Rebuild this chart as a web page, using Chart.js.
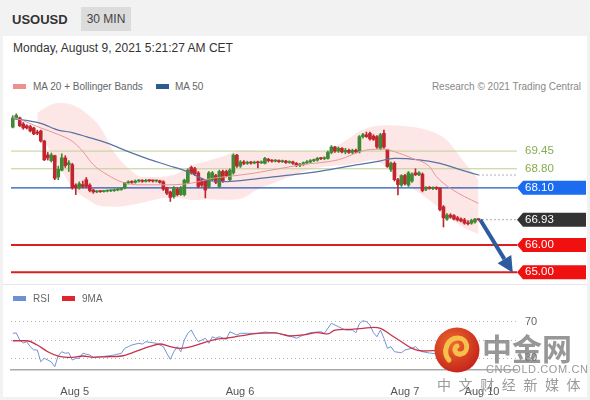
<!DOCTYPE html>
<html>
<head>
<meta charset="utf-8">
<script src="https://cdn.jsdelivr.net/npm/chart.js@4.4.0/dist/chart.umd.min.js"></script>
<style>
  body { margin:0; width:590px; height:400px; overflow:hidden; background:#f2f2f2; font-family:"Liberation Sans", Arial, sans-serif; position:relative; }
  .abs { position:absolute; }
  #panel { left:3px; top:36px; width:584px; height:361px; background:#fff; }
  #sym { left:12px; top:12px; font-weight:bold; font-size:13px; color:#333; }
  #tf { left:81px; top:7px; width:50px; height:24px; line-height:24px; text-align:center; background:#dcdcdc; font-size:12px; color:#444; }
  #date { left:13px; top:41px; font-size:12px; color:#333; }
  .leg { font-size:10px; color:#666; top:81px; }
  .sw { height:5px; width:13px; }
  #research { right:9px; top:81px; font-size:10px; color:#888; }
  #sep { left:3px; top:284px; width:584px; height:1px; background:#e6e6ee; }
  .wm { color:#8a8a8a; white-space:nowrap; }
</style>
</head>
<body>
<div id="panel" class="abs"></div>
<div id="sym" class="abs">USOUSD</div>
<div id="tf" class="abs">30 MIN</div>
<div id="date" class="abs">Monday, August 9, 2021 5:21:27 AM CET</div>

<div class="abs sw" style="left:13px;top:84px;background:#ef9090"></div>
<div class="abs leg" style="left:33px">MA 20 + Bollinger Bands</div>
<div class="abs sw" style="left:156px;top:84px;background:#2e5b8f"></div>
<div class="abs leg" style="left:175px">MA 50</div>
<div id="research" class="abs">Research © 2021 Trading Central</div>

<canvas id="main" class="abs" style="left:0;top:92px" width="590" height="196"></canvas>
<div id="sep" class="abs"></div>

<div class="abs sw" style="left:13px;top:296px;background:#6d8fd3"></div>
<div class="abs leg" style="left:33px;top:293px">RSI</div>
<div class="abs sw" style="left:62px;top:296px;background:#e0262b"></div>
<div class="abs leg" style="left:82px;top:293px">9MA</div>

<canvas id="rsi" class="abs" style="left:0;top:300px" width="590" height="97"></canvas>

<svg class="abs" style="left:434px;top:327px" width="46" height="46" viewBox="0 0 46 46">
  <defs><radialGradient id="lg" cx="40%" cy="35%" r="70%"><stop offset="0" stop-color="#ec6a2c"/><stop offset="1" stop-color="#c4211a"/></radialGradient></defs>
  <circle cx="23" cy="23" r="22.5" fill="url(#lg)"/>
  <path d="M15 33 C 8 25, 13 11, 24 11 C 34 11, 36 25, 27 27 C 21 28, 19 21, 23 19" stroke="#f6c04c" stroke-width="5" fill="none" stroke-linecap="round"/>
</svg>
<div class="abs wm" style="left:482px;top:325px;font:bold 30px 'Noto Sans CJK SC';color:rgba(125,125,125,0.8)">中金网</div>
<div class="abs wm" style="left:486px;top:363px;font-size:11px;letter-spacing:0.6px;color:#9a9a9a">CNGOLD.COM.CN</div>
<div class="abs wm" style="left:437px;top:374px;font-size:14px;letter-spacing:7.6px;font-family:'Noto Sans CJK SC';color:#9a9a9a">中文财经新媒体</div>

<script>
Chart.defaults.font.family = '"Liberation Sans", Arial, sans-serif';

var xMin = -0.5, xMax = 144;
var yMin = 64.53, yMax = 71.40;

// 30 min candles, Aug 4 evening -> Aug 9 morning
var opens = [70.33,70.67,70.67,70.45,70.38,70.35,70.30,70.15,70.19,69.82,69.31,69.10,69.28,68.50,68.75,69.20,68.95,68.95,68.20,68.10,
  68.22,68.40,68.20,68.02,67.95,67.97,67.96,67.98,67.99,68.00,68.02,68.04,68.10,68.28,68.32,68.30,68.35,68.36,68.34,68.37,
  68.36,68.35,68.36,68.32,68.10,67.95,67.78,68.05,67.85,67.85,68.30,68.85,68.80,68.65,68.40,68.35,68.15,68.40,68.55,68.15,
  68.70,68.70,68.40,68.65,69.30,68.90,69.05,69.00,69.03,69.01,69.04,69.02,69.00,69.15,69.10,69.08,69.10,69.06,69.08,69.03,
  69.05,69.00,68.93,68.95,69.02,69.05,69.10,69.12,69.18,69.17,69.18,69.40,69.60,69.45,69.55,69.42,69.48,69.40,69.48,69.42,
  69.98,70.05,70.10,70.00,69.98,69.55,70.10,69.50,68.78,69.00,68.40,68.20,68.55,68.20,68.35,68.65,68.58,68.60,68.05,68.12,
  68.08,68.12,68.08,67.40,66.95,67.10,67.08,67.00,66.95,66.92,66.82,66.80,66.85,66.95];
var highs = [70.75,70.82,70.70,70.50,70.42,70.40,70.33,70.22,70.22,69.85,69.40,69.38,69.30,68.90,69.35,69.28,69.10,69.00,68.25,68.32,
  68.35,68.48,68.25,68.05,68.00,68.00,68.01,68.02,68.03,68.05,68.07,68.10,68.30,68.36,68.36,68.39,68.40,68.40,68.41,68.40,
  68.39,68.39,68.38,68.36,68.12,67.98,68.15,68.10,68.15,68.42,68.80,68.90,68.85,68.70,68.45,68.38,68.70,68.70,68.60,68.75,
  68.75,68.75,68.80,69.35,69.33,69.10,69.10,69.08,69.07,69.08,69.08,69.09,69.22,69.18,69.14,69.14,69.13,69.12,69.11,69.09,
  69.08,69.03,69.00,69.05,69.10,69.14,69.16,69.22,69.22,69.24,69.45,69.65,69.62,69.60,69.58,69.55,69.52,69.52,69.52,70.02,
  70.10,70.15,70.15,70.05,70.02,70.10,70.22,69.52,69.05,69.05,68.45,68.58,68.60,68.70,68.65,68.80,68.70,68.65,68.15,68.15,
  68.14,68.14,68.12,67.45,67.15,67.15,67.12,67.05,67.00,66.98,66.90,66.95,66.98,66.97];
var lows = [70.30,70.62,70.35,70.25,70.26,70.15,70.05,70.05,69.78,69.10,69.12,69.05,68.40,68.40,68.72,68.85,68.70,68.05,67.85,68.05,
  68.10,68.10,67.95,67.90,67.92,67.93,67.94,67.95,67.96,67.97,67.99,68.01,68.06,68.24,68.26,68.27,68.31,68.30,68.31,68.32,
  68.31,68.31,68.27,68.00,67.85,67.60,67.72,67.80,67.82,67.80,68.25,68.60,68.55,68.10,68.15,67.73,68.10,68.35,68.25,68.10,
  68.30,68.50,68.35,68.60,68.85,68.85,68.95,68.96,68.97,68.98,68.83,68.99,68.98,69.05,69.04,69.05,69.03,69.03,69.00,69.00,
  68.96,68.88,68.88,68.92,68.98,69.02,69.06,69.08,69.13,69.13,69.15,69.35,69.40,69.40,69.38,69.35,69.36,69.35,69.38,69.38,
  69.92,69.95,69.85,69.84,69.55,69.50,69.55,68.85,68.70,68.35,67.84,68.15,68.20,68.15,68.30,68.55,68.55,67.95,68.00,68.05,
  68.03,68.03,67.25,66.66,66.90,66.98,66.92,66.88,66.85,66.76,66.74,66.76,66.80,66.90];
var closes = [70.67,70.76,70.38,70.30,70.30,70.19,70.08,70.10,69.82,69.13,69.20,69.31,68.45,68.78,69.20,68.92,69.02,68.10,68.10,68.25,
  68.15,68.15,68.00,67.95,67.97,67.96,67.98,67.99,68.00,68.02,68.04,68.08,68.28,68.32,68.30,68.35,68.36,68.34,68.37,68.36,
  68.35,68.36,68.30,68.05,67.90,67.75,68.10,67.85,68.10,68.38,68.75,68.65,68.62,68.15,68.20,68.02,68.65,68.65,68.30,68.70,
  68.35,68.55,68.75,69.30,68.90,69.05,69.00,69.03,69.01,69.04,69.02,69.05,69.18,69.10,69.08,69.10,69.06,69.08,69.03,69.05,
  69.00,68.93,68.95,69.02,69.05,69.10,69.12,69.18,69.17,69.20,69.40,69.60,69.45,69.55,69.42,69.48,69.40,69.48,69.42,69.98,
  70.05,69.98,69.90,69.88,69.60,70.05,69.60,68.88,69.00,68.40,68.22,68.55,68.25,68.65,68.60,68.58,68.65,68.00,68.12,68.08,
  68.12,68.08,67.30,67.00,67.10,67.02,66.95,66.92,66.88,66.80,66.78,66.90,66.95,66.93];

var ma20Idx = [0,2,8,13,17,20,23,27,31,36,44,51,57,61,69,82,93,101,106,109,114,119,121,125,129,133];
var ma20 = [70.68,70.61,70.30,70.06,69.81,69.44,68.95,68.58,68.32,68.21,68.21,68.27,68.45,68.51,68.64,68.94,69.13,69.49,69.52,69.43,69.19,68.88,68.51,68.08,67.78,67.53];
var ma50Idx = [0,8,13,17,21,27,33,38,44,50,56,61,69,77,85,91,98,104,109,116,122,128,133];
var ma50 = [70.65,70.47,70.22,70.13,69.98,69.74,69.43,69.19,68.94,68.69,68.36,68.33,68.42,68.54,68.66,68.78,68.94,69.06,69.18,69.13,69.00,68.76,68.57];
var bbIdx = [7,10,13,17,21,25,29,33,37,41,46,51,56,60,65,70,75,80,85,90,95,99,103,108,112,116,120,124,128,133];
var bbUpper = [70.85,71.10,71.22,71.15,70.84,70.33,69.40,68.82,68.50,68.50,68.58,68.90,69.10,69.25,69.48,69.45,69.43,69.43,69.43,69.48,69.83,70.17,70.35,70.40,70.36,70.30,70.15,69.85,69.20,68.40];
var bbLower = [70.45,69.60,68.95,68.12,67.70,67.43,67.40,67.45,67.55,67.68,67.75,67.65,67.68,67.66,67.70,68.05,68.30,68.55,68.78,68.89,68.95,69.02,69.12,68.70,68.25,67.92,67.55,67.10,66.70,66.40];

var resistances = [69.45, 68.80];
var pivot = 68.10;
var supports = [66.00, 65.00];
var lastPrice = closes[closes.length - 1];
var arrowFrom = [133.5, 66.93];
var arrowTo = [142.8, 64.98];

var rsiIdx = [0,1,2,3,4,5,6,7,8,9,10,11,12,13,14,15,16,17,18,19,20,21,22,23,25,27,29,31,32,33,34,36,37,38,40,41,42,43,44,45,46,47,48,49,
  50,51,52,53,55,56,57,58,59,61,62,64,65,67,70,72,75,78,80,81,83,85,88,89,91,93,95,97,98,99,100,101,102,103,104,105,106,107,108,109,
  111,112,114,115,116,117,119,121,122,123,124,126,128,130,131,133];
var rsiVals = [57.3,57.7,50,46.7,48.1,42.7,39.1,39.1,26.3,30,28.1,26,20.8,33,37.2,35.5,36.1,28.1,30,30,35.5,34.5,33.6,31.1,31.7,32.5,33.6,35.5,40.9,42.7,44.5,46.4,45.6,48.1,47,46.4,44.5,42.7,35.5,28.9,37.2,42.7,37.2,50,
  57.3,60.9,53.6,48.1,51.9,46.4,53.6,51.9,53.6,50.8,59.1,55.5,57.3,57.3,57.3,58.7,57.7,55.5,53.3,51.9,55.5,58,59.1,57.3,68.3,64.5,60.9,60.9,58,68,71.1,70,66.4,58,53.6,60.9,51.9,40.9,42.7,37.2,
  36.1,39.1,40.9,42.7,39.1,37.2,35.8,35,30,24,28,29,27.5,26.5,29,31];
var rsiMaIdx = [0,4,7,10,13,17,20,23,27,31,35,39,42,45,48,51,54,58,61,65,70,75,79,83,87,90,92,96,100,103,105,108,111,114,117,120,125,129,133];
var rsiMa = [49.2,49.2,44.5,37.2,32.5,31.1,32.5,31.1,31.7,32.5,37.2,42.7,45.6,42.7,40.9,42.7,46.4,50.8,51.9,54.4,57.3,57.7,54.4,55.5,58,56.6,60.9,61.7,62.8,63.9,62.8,55.5,48.1,40.9,38,38.3,35.8,33.6,32.5];
var rsiGrid = [30, 50, 70];

var dayTicks = [17.7, 64.9, 112, 134];
var dayLabels = ['Aug 5', 'Aug 6', 'Aug 7', 'Aug 10'];

var axisLevels = [resistances[0], resistances[1], pivot, lastPrice, supports[0], supports[1]];
var labelColors = ['#86ad4c', '#86ad4c', '#fff', '#fff', '#fff', '#fff'];
var boxColors = [null, null, '#1c6cf0', '#333333', '#f01010', '#f01010'];

function pts(idx, vals) {
  return idx.map(function(x, k) { return {x: x, y: vals[k]}; });
}
function hline(v, from) {
  return [{x: from === undefined ? xMin : from, y: v}, {x: xMax, y: v}];
}
// keep the y axis from pushing the plot area in for its labels
function noPad(s) {
  s.paddingTop = 0;
  s.paddingBottom = 0;
}

var wickData = [], bodyData = [], candleColors = [];
for (var i = 0; i < closes.length; i++) {
  wickData.push({x: i, y: [lows[i], highs[i]]});
  bodyData.push({x: i, y: [opens[i], closes[i]]});
  candleColors.push(closes[i] >= opens[i] ? '#3d8a33' : '#c1262e');
}

function lineSet(data, color, width, extra) {
  var d = {type: 'line', data: data, borderColor: color, borderWidth: width, pointRadius: 0, fill: false};
  for (var k in extra) d[k] = extra[k];
  return d;
}

var levelBoxes = {
  id: 'levelBoxes',
  beforeDraw: function(chart) {
    var s = chart.scales.y, ctx = chart.ctx, l = chart.chartArea.right, r = chart.width - 4;
    ctx.save();
    axisLevels.forEach(function(v, k) {
      if (!boxColors[k]) return;
      var y = s.getPixelForValue(v);
      ctx.fillStyle = boxColors[k];
      ctx.beginPath();
      ctx.moveTo(l, y);
      ctx.lineTo(l + 6, y - 7);
      ctx.lineTo(r, y - 7);
      ctx.lineTo(r, y + 7);
      ctx.lineTo(l + 6, y + 7);
      ctx.closePath();
      ctx.fill();
    });
    ctx.restore();
  }
};

var arrow = {
  id: 'arrow',
  afterDatasetsDraw: function(chart) {
    var sx = chart.scales.x, sy = chart.scales.y, ctx = chart.ctx;
    var x0 = sx.getPixelForValue(arrowFrom[0]), y0 = sy.getPixelForValue(arrowFrom[1]);
    var x1 = sx.getPixelForValue(arrowTo[0]), y1 = sy.getPixelForValue(arrowTo[1]);
    var a = Math.atan2(y1 - y0, x1 - x0), hl = 16, hw = 8;
    var bx = x1 - hl * Math.cos(a), by = y1 - hl * Math.sin(a);
    ctx.save();
    ctx.strokeStyle = '#2c5c9e';
    ctx.fillStyle = '#2c5c9e';
    ctx.lineWidth = 4;
    ctx.beginPath();
    ctx.moveTo(x0, y0);
    ctx.lineTo(bx, by);
    ctx.stroke();
    ctx.beginPath();
    ctx.moveTo(x1, y1);
    ctx.lineTo(bx + hw * Math.sin(a), by - hw * Math.cos(a));
    ctx.lineTo(bx - hw * Math.sin(a), by + hw * Math.cos(a));
    ctx.closePath();
    ctx.fill();
    ctx.restore();
  }
};

var smooth = {cubicInterpolationMode: 'monotone'};

new Chart(document.getElementById('main'), {
  type: 'bar',
  data: {
    datasets: [
      lineSet(pts(ma20Idx, ma20), '#e59797', 1, smooth),
      lineSet(pts(ma50Idx, ma50), '#5a72a4', 1.2, smooth),
      lineSet(hline(ma50[ma50.length - 1], ma50Idx[ma50Idx.length - 1]), '#666', 1, {borderDash: [1, 3]}),
      lineSet(hline(lastPrice, closes.length - 1), '#555', 1, {borderDash: [1, 3]}),
      {type: 'bar', data: bodyData, backgroundColor: candleColors, barThickness: 3, grouped: false, minBarLength: 1},
      {type: 'bar', data: wickData, backgroundColor: candleColors, barThickness: 1, grouped: false},
      lineSet(hline(resistances[0]), '#bdd095', 1),
      lineSet(hline(resistances[1]), '#bdd095', 1),
      lineSet(hline(pivot), '#2257b3', 1.3),
      lineSet(hline(supports[0]), '#d91f1f', 2),
      lineSet(hline(supports[1]), '#d91f1f', 2),
      lineSet(pts(bbIdx, bbUpper), 'transparent', 0, {fill: '+1', backgroundColor: 'rgba(247,172,172,0.3)', cubicInterpolationMode: 'monotone'}),
      lineSet(pts(bbIdx, bbLower), 'transparent', 0, smooth)
    ]
  },
  options: {
    animation: false, responsive: false, devicePixelRatio: 1, events: [],
    layout: {padding: {left: 11, top: 6, bottom: 3, right: 0}},
    plugins: {legend: {display: false}, tooltip: {enabled: false}},
    scales: {
      x: {type: 'linear', display: false, min: xMin, max: xMax, offset: false},
      y: {
        position: 'right', min: yMin, max: yMax,
        afterBuildTicks: function(s) { s.ticks = axisLevels.map(function(v) { return {value: v}; }); },
        afterFit: function(s) { s.width = 73; noPad(s); },
        grid: {display: false, drawTicks: false}, border: {display: false},
        ticks: {
          autoSkip: false, padding: 8, font: {size: 11.5},
          color: function(c) { return labelColors[c.index]; },
          callback: function(v) { return v.toFixed(2); }
        }
      }
    }
  },
  plugins: [levelBoxes, arrow]
});

new Chart(document.getElementById('rsi'), {
  type: 'line',
  data: {
    datasets: [
      lineSet(pts(rsiMaIdx, rsiMa), '#c8334a', 1.3, smooth),
      lineSet(pts(rsiIdx, rsiVals), '#7393d2', 1, {tension: 0})
    ]
  },
  options: {
    animation: false, responsive: false, devicePixelRatio: 1, events: [],
    layout: {padding: {left: 11, top: 10, bottom: 0, right: 0}},
    plugins: {legend: {display: false}, tooltip: {enabled: false}},
    scales: {
      x: {
        type: 'linear', min: xMin, max: xMax,
        afterBuildTicks: function(s) { s.ticks = dayTicks.map(function(v) { return {value: v}; }); },
        afterFit: function(s) { s.height = 27; s.paddingLeft = 0; s.paddingRight = 0; },
        grid: {display: false}, border: {color: '#aaa', width: 1.5},
        ticks: {autoSkip: false, maxRotation: 0, padding: 7, color: '#555', font: {size: 11},
          callback: function(v, k) { return dayLabels[k]; }}
      },
      y: {
        position: 'right', min: 17.2, max: 82.8,
        afterBuildTicks: function(s) { s.ticks = rsiGrid.map(function(v) { return {value: v}; }); },
        afterFit: function(s) { s.width = 73; noPad(s); },
        grid: {color: '#b5b5b5', drawTicks: false}, border: {display: false, dash: [1, 3]},
        ticks: {autoSkip: false, padding: 8, color: '#666', font: {size: 11},
          callback: function(v) { return v === 50 ? '' : v; }}
      }
    }
  }
});
</script>
</body>
</html>
